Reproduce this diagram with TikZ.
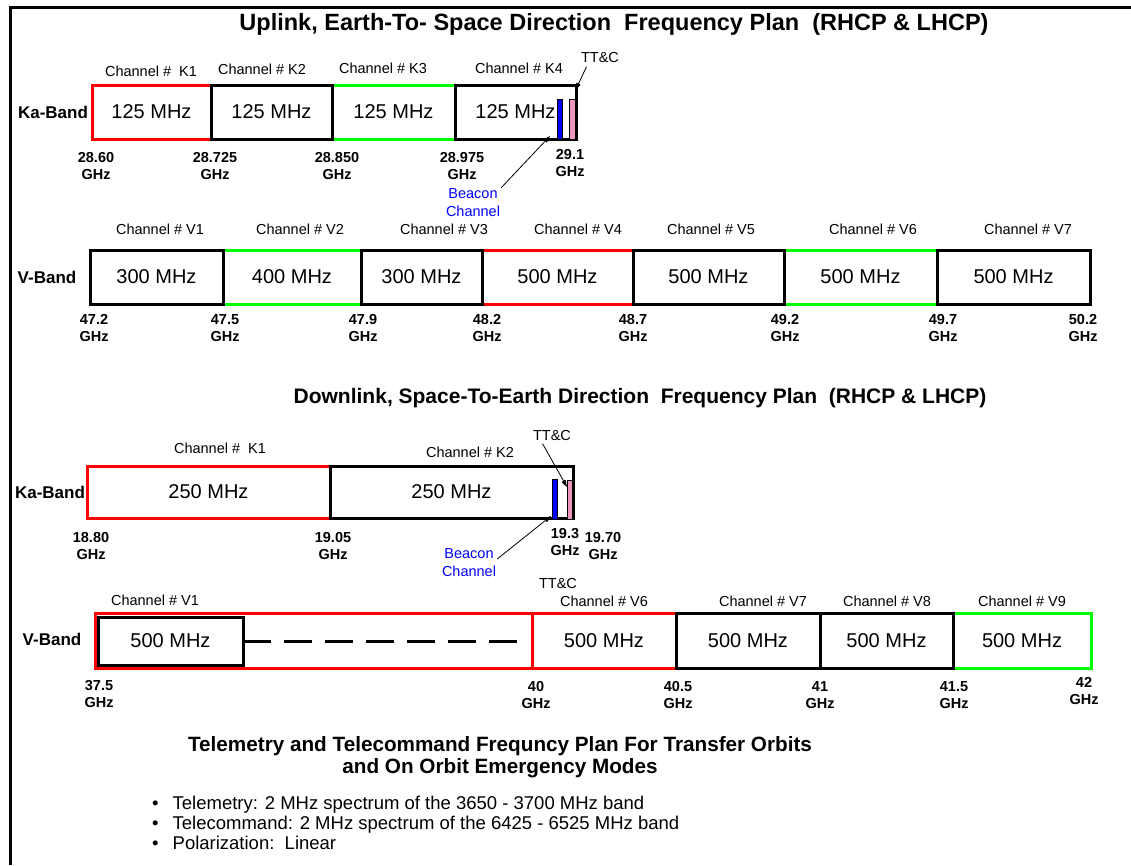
\documentclass[tikz,border=0pt]{standalone}
\usepackage{fontspec}
\setmainfont{Liberation Sans}
\usetikzlibrary{arrows.meta}
\definecolor{chanred}{RGB}{255,0,0}
\definecolor{changreen}{RGB}{0,255,0}
\definecolor{beaconblue}{RGB}{0,0,255}
\definecolor{ttcpink}{RGB}{240,150,190}

\begin{document}
\begin{tikzpicture}[x=1pt, y=-1pt,
  chanbox/.style={draw, line width=3pt, anchor=north west, inner sep=0pt, outer sep=0pt, font=\fontsize{20}{24}\selectfont},
  chanlbl/.style={font=\fontsize{14.5}{17}\selectfont},
  freqlbl/.style={align=center, inner sep=0pt, font=\bfseries\fontsize{14.5}{17.5}\selectfont},
  bandlbl/.style={font=\bfseries\fontsize{17}{20}\selectfont},
  plantitle/.style={font=\bfseries\fontsize{21}{24}\selectfont},
  beaconlbl/.style={align=center, inner sep=1pt, text=beaconblue, font=\fontsize{14.5}{18}\selectfont},
  bar/.style={draw, line width=0.6pt, anchor=north west, inner sep=0pt, outer sep=0pt, minimum width=5pt, minimum height=40pt},
  callout/.style={line width=0.8pt, -{Triangle[length=7pt, width=4.5pt]}}]
\useasboundingbox (0,0) rectangle (1131,865);

% Frame
\draw[line width=3pt] (10,865) -- (10,7) -- (1131,7);

% Uplink title
\node[plantitle, font=\bfseries\fontsize{23.5}{26}\selectfont] (uptitle) at (614,24) {Uplink, Earth-To- Space Direction\ \ Frequency Plan\ \ (RHCP \& LHCP)};

% Uplink Ka-band
\node[bandlbl] (upka) at (53,112) {Ka-Band};
\node[chanbox, draw=chanred, minimum width=119pt, minimum height=54pt] (upk1) at (92,85) {125 MHz};
\node[chanbox, draw=changreen, minimum width=123pt, minimum height=54pt] (upk3) at (332,85) {125 MHz};
\node[chanbox, minimum width=121pt, minimum height=54pt] (upk2) at (211,85) {125 MHz};
\node[chanbox, minimum width=121pt, minimum height=54pt] (upk4) at (455,85) {125 MHz};
\node[bar, fill=beaconblue] (upbcn) at (557,99) {};
\node[bar, fill=ttcpink, minimum width=6pt] (upttc) at (569.5,99) {};
\node[chanlbl] at (151,71) {Channel \# \ K1};
\node[chanlbl] at (262,69) {Channel \# K2};
\node[chanlbl] at (383,68) {Channel \# K3};
\node[chanlbl] at (519,68) {Channel \# K4};
\node[chanlbl] (upttclbl) at (600,58) {TT\&C};
\node[beaconlbl] (upbcnlbl) at (473,203) {Beacon\\Channel};
\draw[callout] (upttclbl.south west) ++(9,0) -- ([yshift=9pt]upttc.north east);
\draw[callout] (upbcnlbl.north east) -- ([xshift=-7pt, yshift=3pt]upbcn.south west);
\node[freqlbl] at (96,166) {28.60\\GHz};
\node[freqlbl] at (215,166) {28.725\\GHz};
\node[freqlbl] at (337,166) {28.850\\GHz};
\node[freqlbl] at (462,166) {28.975\\GHz};
\node[freqlbl] at (570,163) {29.1\\GHz};

% Uplink V-band
\node[bandlbl] (upv) at (47,277) {V-Band};
\node[chanbox, draw=changreen, minimum width=138pt, minimum height=54pt] (upv2) at (223,250) {400 MHz};
\node[chanbox, draw=chanred, minimum width=151pt, minimum height=54pt] (upv4) at (482,250) {500 MHz};
\node[chanbox, draw=changreen, minimum width=153pt, minimum height=54pt] (upv6) at (784,250) {500 MHz};
\node[chanbox, minimum width=133pt, minimum height=54pt] (upv1) at (90,250) {300 MHz};
\node[chanbox, minimum width=121pt, minimum height=54pt] (upv3) at (361,250) {300 MHz};
\node[chanbox, minimum width=151pt, minimum height=54pt] (upv5) at (633,250) {500 MHz};
\node[chanbox, minimum width=153pt, minimum height=54pt] (upv7) at (937,250) {500 MHz};
\node[chanlbl] at (160,229) {Channel \# V1};
\node[chanlbl] at (300,229) {Channel \# V2};
\node[chanlbl] at (444,229) {Channel \# V3};
\node[chanlbl] at (578,229) {Channel \# V4};
\node[chanlbl] at (711,229) {Channel \# V5};
\node[chanlbl] at (873,229) {Channel \# V6};
\node[chanlbl] at (1028,229) {Channel \# V7};
\node[freqlbl] at (94,328) {47.2\\GHz};
\node[freqlbl] at (225,328) {47.5\\GHz};
\node[freqlbl] at (363,328) {47.9\\GHz};
\node[freqlbl] at (487,328) {48.2\\GHz};
\node[freqlbl] at (633,328) {48.7\\GHz};
\node[freqlbl] at (785,328) {49.2\\GHz};
\node[freqlbl] at (943,328) {49.7\\GHz};
\node[freqlbl] at (1083,328) {50.2\\GHz};

% Downlink title
\node[plantitle] (dntitle) at (640,398) {Downlink, Space-To-Earth Direction\ \ Frequency Plan\ \ (RHCP \& LHCP)};

% Downlink Ka-band
\node[bandlbl] (dnka) at (50,492) {Ka-Band};
\node[chanbox, draw=chanred, minimum width=243pt, minimum height=52pt] (dnk1) at (87,466) {250 MHz};
\node[chanbox, minimum width=243pt, minimum height=52pt] (dnk2) at (330,466) {250 MHz};
\node[bar, fill=beaconblue] (dnbcn) at (552,479) {};
\node[bar, fill=ttcpink, minimum height=39pt] (dnttc) at (567,480) {};
\node[chanlbl] at (220,448) {Channel \# \ K1};
\node[chanlbl] at (470,452) {Channel \# K2};
\node[chanlbl] (dnttclbl) at (552,435) {TT\&C};
\node[beaconlbl] (dnbcnlbl) at (469,563) {Beacon\\Channel};
\draw[callout] (dnttclbl.south west) ++(13,0) -- ([yshift=-7pt]dnttc.north west);
\draw[callout] ([yshift=4pt]dnbcnlbl.east) -- ([xshift=-1pt, yshift=3pt]dnbcn.south west);
\node[freqlbl] at (91,546) {18.80\\GHz};
\node[freqlbl] at (333,546) {19.05\\GHz};
\node[freqlbl] at (565,542) {19.3\\GHz};
\node[freqlbl] at (603,546) {19.70\\GHz};

% Downlink V-band
\node[bandlbl] (dnv) at (52,639) {V-Band};
\node[chanbox, draw=chanred, minimum width=437pt, minimum height=55pt] (dnv1out) at (95,613) {};
\node[chanbox, draw=chanred, minimum width=144pt, minimum height=55pt] (dnv6) at (532,613) {500 MHz};
\node[chanbox, draw=changreen, minimum width=138pt, minimum height=55pt] (dnv9) at (953,613) {500 MHz};
\node[chanbox, minimum width=145pt, minimum height=48pt] (dnv1) at (98,617) {500 MHz};
\node[chanbox, minimum width=144pt, minimum height=55pt] (dnv7) at (676,613) {500 MHz};
\node[chanbox, minimum width=133pt, minimum height=55pt] (dnv8) at (820,613) {500 MHz};
\coordinate (dashend) at (521,641);
\draw[line width=3pt, dash pattern=on 28pt off 13pt] (dnv1.east) -- (dashend);
\node[chanlbl] at (155,600) {Channel \# V1};
\node[chanlbl] (dnttc2) at (558,583) {TT\&C};
\node[chanlbl] at (604,601) {Channel \# V6};
\node[chanlbl] at (763,601) {Channel \# V7};
\node[chanlbl] at (887,601) {Channel \# V8};
\node[chanlbl] at (1022,601) {Channel \# V9};
\node[freqlbl] at (99,694) {37.5\\GHz};
\node[freqlbl] at (536,695) {40\\GHz};
\node[freqlbl] at (678,695) {40.5\\GHz};
\node[freqlbl] at (820,695) {41\\GHz};
\node[freqlbl] at (954,695) {41.5\\GHz};
\node[freqlbl] at (1084,691) {42\\GHz};

% Transfer orbit TT&C plan
\node[plantitle, align=center, font=\bfseries\fontsize{20.7}{22}\selectfont] (ttctitle) at (500,757) {Telemetry and Telecommand Frequncy Plan For Transfer Orbits\\and On Orbit Emergency Modes};
\node[anchor=north west, align=left, inner sep=0pt, font=\fontsize{18.5}{20}\selectfont] (ttclist) at (152,796)
  {\textbullet\hspace{14pt}Telemetry: 2 MHz spectrum of the 3650 - 3700 MHz band\\
   \textbullet\hspace{14pt}Telecommand: 2 MHz spectrum of the 6425 - 6525 MHz band\\
   \textbullet\hspace{14pt}Polarization:\ \ Linear};
\end{tikzpicture}
\end{document}
